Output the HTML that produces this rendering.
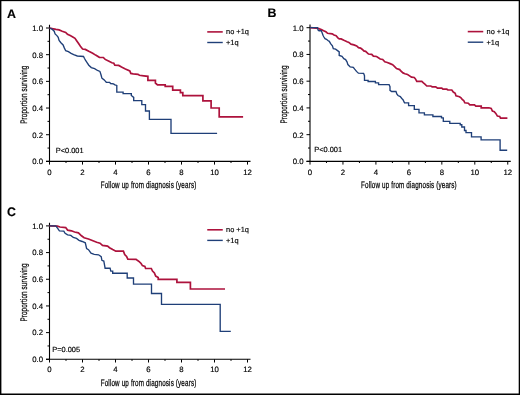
<!DOCTYPE html>
<html><head><meta charset="utf-8"><style>
html,body{margin:0;padding:0;background:#fff;}
svg{display:block;will-change:transform;}
text{font-family:"Liberation Sans",sans-serif;fill:#000;stroke:#000;stroke-width:0.15px;text-rendering:geometricPrecision;}
</style></head><body>
<svg width="520" height="395" viewBox="0 0 520 395">
<rect x="0" y="0" width="520" height="395" fill="#fff"/>
<path d="M49.5,24.8V161.9M46.0,161.4H250.5" stroke="#000" stroke-width="1.1" fill="none"/>
<path d="M46.0,161.40H49.5M47.5,148.06H49.5M46.0,134.72H49.5M47.5,121.38H49.5M46.0,108.04H49.5M47.5,94.70H49.5M46.0,81.36H49.5M47.5,68.02H49.5M46.0,54.68H49.5M47.5,41.34H49.5M46.0,28.00H49.5M49.50,161.4V164.6M66.00,161.4V163.0M82.50,161.4V164.6M99.00,161.4V163.0M115.50,161.4V164.6M132.00,161.4V163.0M148.50,161.4V164.6M165.00,161.4V163.0M181.50,161.4V164.6M198.00,161.4V163.0M214.50,161.4V164.6M231.00,161.4V163.0M247.50,161.4V164.6" stroke="#000" stroke-width="1" fill="none"/>
<text x="43.0" y="164.25" text-anchor="end" font-size="7.8">0.0</text>
<text x="43.0" y="137.57" text-anchor="end" font-size="7.8">0.2</text>
<text x="43.0" y="110.89" text-anchor="end" font-size="7.8">0.4</text>
<text x="43.0" y="84.21" text-anchor="end" font-size="7.8">0.6</text>
<text x="43.0" y="57.53" text-anchor="end" font-size="7.8">0.8</text>
<text x="43.0" y="30.85" text-anchor="end" font-size="7.8">1.0</text>
<text x="49.50" y="174.50" text-anchor="middle" font-size="7.8">0</text>
<text x="82.50" y="174.50" text-anchor="middle" font-size="7.8">2</text>
<text x="115.50" y="174.50" text-anchor="middle" font-size="7.8">4</text>
<text x="148.50" y="174.50" text-anchor="middle" font-size="7.8">6</text>
<text x="181.50" y="174.50" text-anchor="middle" font-size="7.8">8</text>
<text x="214.50" y="174.50" text-anchor="middle" font-size="7.8">10</text>
<text x="247.50" y="174.50" text-anchor="middle" font-size="7.8">12</text>
<text transform="translate(148.50,187.60) scale(0.66,1)" x="0" y="0" text-anchor="middle" font-size="9.5" style="stroke-width:0.25px" textLength="144.85" lengthAdjust="spacing">Follow up from diagnosis (years)</text>
<text transform="translate(26.8,94.70) rotate(-90) scale(0.66,1)" x="0" y="0" text-anchor="middle" font-size="9.5" style="stroke-width:0.25px" textLength="87.88" lengthAdjust="spacing">Proportion surviving</text>
<text x="55.8" y="152.90" font-size="7.4">P&lt;0.001</text>
<path d="M207.25,31.9H222.75" stroke="#ad123c" stroke-width="1.6"/>
<path d="M207.25,42.5H222.75" stroke="#1f3f78" stroke-width="1.4"/>
<text x="226.05" y="34.3" font-size="7.4">no +1q</text>
<text x="226.05" y="44.9" font-size="7.4">+1q</text>
<text x="7.0" y="17.80" font-size="12.4" font-weight="bold" fill="#000">A</text>
<path d="M310.0,24.5V161.9M306.5,161.4H510.76" stroke="#000" stroke-width="1.1" fill="none"/>
<path d="M306.5,161.40H310.0M308.0,148.03H310.0M306.5,134.66H310.0M308.0,121.29H310.0M306.5,107.92H310.0M308.0,94.55H310.0M306.5,81.18H310.0M308.0,67.81H310.0M306.5,54.44H310.0M308.0,41.07H310.0M306.5,27.70H310.0M310.00,161.4V164.6M326.48,161.4V163.0M342.96,161.4V164.6M359.44,161.4V163.0M375.92,161.4V164.6M392.40,161.4V163.0M408.88,161.4V164.6M425.36,161.4V163.0M441.84,161.4V164.6M458.32,161.4V163.0M474.80,161.4V164.6M491.28,161.4V163.0M507.76,161.4V164.6" stroke="#000" stroke-width="1" fill="none"/>
<text x="303.5" y="164.25" text-anchor="end" font-size="7.8">0.0</text>
<text x="303.5" y="137.51" text-anchor="end" font-size="7.8">0.2</text>
<text x="303.5" y="110.77" text-anchor="end" font-size="7.8">0.4</text>
<text x="303.5" y="84.03" text-anchor="end" font-size="7.8">0.6</text>
<text x="303.5" y="57.29" text-anchor="end" font-size="7.8">0.8</text>
<text x="303.5" y="30.55" text-anchor="end" font-size="7.8">1.0</text>
<text x="310.00" y="174.50" text-anchor="middle" font-size="7.8">0</text>
<text x="342.96" y="174.50" text-anchor="middle" font-size="7.8">2</text>
<text x="375.92" y="174.50" text-anchor="middle" font-size="7.8">4</text>
<text x="408.88" y="174.50" text-anchor="middle" font-size="7.8">6</text>
<text x="441.84" y="174.50" text-anchor="middle" font-size="7.8">8</text>
<text x="474.80" y="174.50" text-anchor="middle" font-size="7.8">10</text>
<text x="507.76" y="174.50" text-anchor="middle" font-size="7.8">12</text>
<text transform="translate(408.88,187.60) scale(0.66,1)" x="0" y="0" text-anchor="middle" font-size="9.5" style="stroke-width:0.25px" textLength="144.85" lengthAdjust="spacing">Follow up from diagnosis (years)</text>
<text transform="translate(287.3,94.55) rotate(-90) scale(0.66,1)" x="0" y="0" text-anchor="middle" font-size="9.5" style="stroke-width:0.25px" textLength="87.88" lengthAdjust="spacing">Proportion surviving</text>
<text x="314.3" y="152.40" font-size="7.4">P&lt;0.001</text>
<path d="M467.75,31.599999999999998H483.25" stroke="#ad123c" stroke-width="1.6"/>
<path d="M467.75,42.199999999999996H483.25" stroke="#1f3f78" stroke-width="1.4"/>
<text x="486.55" y="34.0" font-size="7.4">no +1q</text>
<text x="486.55" y="44.599999999999994" font-size="7.4">+1q</text>
<text x="267.5" y="17.00" font-size="12.4" font-weight="bold" fill="#000">B</text>
<path d="M49.5,222.70000000000002V359.8M46.0,359.3H250.5" stroke="#000" stroke-width="1.1" fill="none"/>
<path d="M46.0,359.30H49.5M47.5,345.96H49.5M46.0,332.62H49.5M47.5,319.28H49.5M46.0,305.94H49.5M47.5,292.60H49.5M46.0,279.26H49.5M47.5,265.92H49.5M46.0,252.58H49.5M47.5,239.24H49.5M46.0,225.90H49.5M49.50,359.3V362.5M66.00,359.3V360.90000000000003M82.50,359.3V362.5M99.00,359.3V360.90000000000003M115.50,359.3V362.5M132.00,359.3V360.90000000000003M148.50,359.3V362.5M165.00,359.3V360.90000000000003M181.50,359.3V362.5M198.00,359.3V360.90000000000003M214.50,359.3V362.5M231.00,359.3V360.90000000000003M247.50,359.3V362.5" stroke="#000" stroke-width="1" fill="none"/>
<text x="43.0" y="362.15" text-anchor="end" font-size="7.8">0.0</text>
<text x="43.0" y="335.47" text-anchor="end" font-size="7.8">0.2</text>
<text x="43.0" y="308.79" text-anchor="end" font-size="7.8">0.4</text>
<text x="43.0" y="282.11" text-anchor="end" font-size="7.8">0.6</text>
<text x="43.0" y="255.43" text-anchor="end" font-size="7.8">0.8</text>
<text x="43.0" y="228.75" text-anchor="end" font-size="7.8">1.0</text>
<text x="49.50" y="372.40" text-anchor="middle" font-size="7.8">0</text>
<text x="82.50" y="372.40" text-anchor="middle" font-size="7.8">2</text>
<text x="115.50" y="372.40" text-anchor="middle" font-size="7.8">4</text>
<text x="148.50" y="372.40" text-anchor="middle" font-size="7.8">6</text>
<text x="181.50" y="372.40" text-anchor="middle" font-size="7.8">8</text>
<text x="214.50" y="372.40" text-anchor="middle" font-size="7.8">10</text>
<text x="247.50" y="372.40" text-anchor="middle" font-size="7.8">12</text>
<text transform="translate(148.50,385.50) scale(0.66,1)" x="0" y="0" text-anchor="middle" font-size="9.5" style="stroke-width:0.25px" textLength="144.85" lengthAdjust="spacing">Follow up from diagnosis (years)</text>
<text transform="translate(26.8,292.60) rotate(-90) scale(0.66,1)" x="0" y="0" text-anchor="middle" font-size="9.5" style="stroke-width:0.25px" textLength="87.88" lengthAdjust="spacing">Proportion surviving</text>
<text x="52.3" y="352.10" font-size="7.4">P=0.005</text>
<path d="M207.25,229.8H222.75" stroke="#ad123c" stroke-width="1.6"/>
<path d="M207.25,240.4H222.75" stroke="#1f3f78" stroke-width="1.4"/>
<text x="226.05" y="232.20000000000002" font-size="7.4">no +1q</text>
<text x="226.05" y="242.8" font-size="7.4">+1q</text>
<text x="7.0" y="215.60" font-size="12.4" font-weight="bold" fill="#000">C</text>
<path d="M49.5,28.0L52.4,28.7L56.0,29.4L59.1,29.9L62.2,31.2L65.7,32.5L67.5,34.3L70.2,35.6L72.8,37.0L75.0,38.3L76.8,41.0L78.6,43.6L80.4,46.3L82.6,49.0L85.3,49.4L88.8,51.3L92.7,53.2L95.6,55.1L99.4,57.3L103.3,57.5L105.2,59.4L109.0,61.3L111.9,62.8L113.8,63.3L114.8,65.2L118.7,65.4L121.5,67.1L125.4,69.0L129.8,71.0L130.8,73.4L133.2,73.8L138.0,74.3L139.4,75.3L143.8,75.8L147.9,76.3V80.4L155.4,80.4V83.0L157.5,84.9L165.2,84.9V86.3L172.7,86.3V90.2L180.4,90.2V92.6L182.8,92.6V95.6L202.9,95.6V100.8L211.1,100.8V108.0L219.2,108.0V116.9L243.1,116.9" stroke="#ad123c" stroke-width="1.7" fill="none" stroke-linejoin="miter"/>
<path d="M49.5,28.0L52.4,29.4L54.2,31.2L55.1,33.9L56.9,35.6L58.2,37.4L59.1,40.5L60.9,42.7L63.1,45.0L64.4,48.1L65.7,50.7L68.4,51.6L71.1,53.4L73.7,54.7L77.3,56.0L83.5,56.5L84.4,58.3L85.3,60.0L86.9,62.3L88.8,65.2L91.3,67.6L94.6,68.6L97.5,70.5L99.9,71.4L101.0,74.8L101.9,78.2L103.8,79.6L105.3,81.1L106.3,82.3L109.6,82.3L110.6,83.5L113.5,83.9L114.9,84.9L116.8,85.4V88.3V92.1L123.1,92.1V93.6L131.3,93.6V95.5L133.7,97.4V100.6L141.8,100.6V104.6L145.5,104.6V111.0L149.4,111.0V119.4L171.0,119.4V133.4L217.1,133.4" stroke="#1f3f78" stroke-width="1.35" fill="none" stroke-linejoin="miter"/>
<path d="M310.0,27.7L316.1,28.2L318.1,28.3L319.5,28.9L321.8,29.8L323.6,30.7L325.9,31.8L327.6,33.3L332.2,33.8L334.0,35.0L336.1,35.7L337.9,37.8L339.3,38.9L341.1,38.9L343.9,40.3L347.1,41.7L348.9,42.4L351.0,44.2L353.9,44.9L356.7,46.0L358.5,47.7L360.6,48.1L362.4,49.5L363.8,50.9L365.6,51.3L368.5,54.0L371.7,54.4L373.4,56.2L376.6,56.5L380.2,59.0L382.7,59.5L384.8,61.8L387.3,62.5L390.1,63.6L392.6,64.7L394.4,66.4L396.5,68.6L399.7,69.6L400.8,71.0L403.0,72.9L404.9,73.7L407.6,74.5L409.2,75.6L411.5,77.2L414.2,77.5L415.3,78.7L416.8,81.4L421.8,81.4L423.4,82.9L424.9,84.1L426.8,86.0L430.7,86.0L432.2,86.8L435.7,86.8L437.5,88.2L441.8,88.2L442.9,89.2L446.8,89.2L447.9,90.0L451.8,90.0L453.3,92.1L455.2,93.2L456.0,95.9L459.5,96.7L461.0,97.8L462.2,99.4L463.7,100.5L464.8,102.8L468.3,103.2L469.8,104.8L474.5,104.9L475.8,106.1L481.2,106.1V107.8L488.9,107.8L491.2,108.4L492.4,111.1L494.3,111.7L495.8,113.4L497.4,116.1L499.7,116.5L500.5,118.2L507.4,118.2" stroke="#ad123c" stroke-width="1.7" fill="none" stroke-linejoin="miter"/>
<path d="M310.0,27.6L317.5,27.6L318.1,30.1L319.0,30.7L321.3,30.7L322.1,32.7L323.0,35.3L323.9,37.0L325.0,38.7L326.5,39.3L327.9,40.5L329.3,41.3L330.6,43.6L332.4,45.9L333.3,48.7L335.6,49.1L337.9,50.9L339.2,51.9V55.5L342.0,56.4L343.8,58.7L345.6,59.6L347.0,61.9L347.9,64.6L350.2,66.9L353.3,67.3L354.7,69.2L356.5,71.4L358.4,73.2L363.6,73.3L364.5,75.7V80.4L368.1,80.4V81.5L375.4,81.5V82.8L378.6,82.8V84.6L389.1,84.6L390.0,86.6V90.3L391.6,91.5L396.0,91.5L396.8,93.9L398.0,95.5L400.3,96.6L401.8,98.5L403.0,99.7L404.5,102.8L408.6,102.8V105.6L414.3,105.6V109.3L419.0,109.3V112.8L424.4,112.8V114.9L432.9,114.9V116.5L441.5,116.5V117.8L443.3,117.8V121.4L449.8,121.4V123.4L460.2,123.4V124.7L461.8,124.7V127.0L464.5,127.0V130.5L466.0,130.5V132.6L471.5,132.6V136.8L481.1,136.8V139.9L500.1,139.9V150.2L507.2,150.2" stroke="#1f3f78" stroke-width="1.35" fill="none" stroke-linejoin="miter"/>
<path d="M49.5,225.8L57.5,226.2L60.0,227.0L65.7,227.6L67.6,230.1L71.4,230.8L74.6,232.0L78.4,232.9L81.5,235.8L84.1,237.7L88.5,239.0L92.3,240.5L96.7,242.2L100.0,243.2L102.5,245.4L107.6,246.1L109.5,247.7L112.7,249.6L115.8,251.2L123.4,251.2L124.7,254.6L126.6,256.5L127.8,259.1L136.1,259.3L137.3,260.3L139.2,261.6L141.1,263.5L142.4,265.6L144.9,266.4L145.6,268.5L151.3,268.5L152.5,271.1L154.4,273.0L155.7,276.1L158.2,277.4V279.4L176.9,279.4V282.3L190.4,282.3V289.0L225.0,289.0" stroke="#ad123c" stroke-width="1.7" fill="none" stroke-linejoin="miter"/>
<path d="M49.5,225.8L55.8,225.8L57.5,228.2L59.4,230.8L63.8,231.1L65.1,233.3L67.6,234.9L70.8,235.4L73.3,237.5L76.5,238.4L79.0,240.3L82.2,241.5L85.3,242.8L86.6,248.5L88.5,249.7L91.0,253.2L94.2,254.4L98.6,254.8L101.2,256.7L101.9,260.3L103.8,261.0L105.1,268.2L110.1,268.2L110.8,271.1L112.7,271.1V273.2L127.2,273.2V278.0L133.5,278.0V284.1L151.5,284.1V293.5L161.5,293.5V304.4L220.2,304.4V331.3L230.8,331.3" stroke="#1f3f78" stroke-width="1.35" fill="none" stroke-linejoin="miter"/>
<rect x="0" y="0" width="1.4" height="395" fill="#000"/><rect x="518.7" y="0" width="1.3" height="395" fill="#000"/><rect x="0" y="0" width="520" height="1.15" fill="#000"/><rect x="0" y="393.5" width="520" height="1.5" fill="#000"/>
</svg>
</body></html>
